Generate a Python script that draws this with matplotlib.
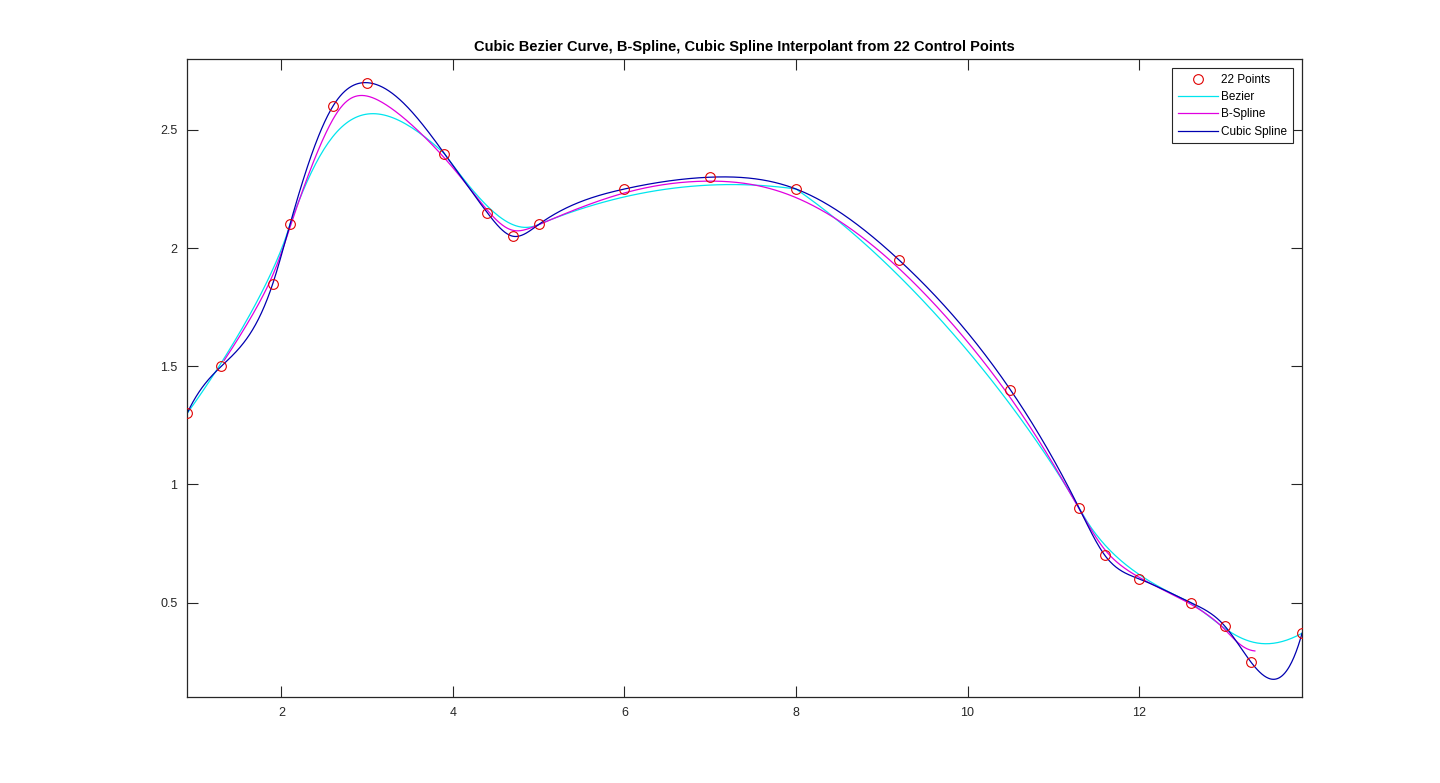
import numpy as np
import matplotlib
matplotlib.use("Agg")
import matplotlib.pyplot as plt

plt.rcParams['font.family'] = ['Liberation Sans', 'DejaVu Sans']

# Control points
x_pts = [0.9, 1.3, 1.9, 2.1, 2.6, 3.0, 3.9, 4.4, 4.7, 5.0, 6.0,
         7.0, 8.0, 9.2, 10.5, 11.3, 11.6, 12.0, 12.6, 13.0, 13.3, 13.9]
y_pts = [1.30, 1.50, 1.85, 2.10, 2.60, 2.70, 2.40, 2.15, 2.05, 2.10, 2.25,
         2.30, 2.25, 1.95, 1.40, 0.90, 0.70, 0.60, 0.50, 0.40, 0.25, 0.37]

x_ticks = [2, 4, 6, 8, 10, 12]
y_ticks = [0.5, 1, 1.5, 2, 2.5]

P = np.column_stack([x_pts, y_pts])
n = len(P)

# Piecewise cubic Bezier (segments share end points: 22 = 3*7 + 1)
t = np.linspace(0, 1, 60)[:, None]
bez = []
for s in range(0, n - 1, 3):
    p0, p1, p2, p3 = P[s], P[s + 1], P[s + 2], P[s + 3]
    seg = ((1 - t) ** 3) * p0 + 3 * ((1 - t) ** 2) * t * p1 + 3 * (1 - t) * t ** 2 * p2 + t ** 3 * p3
    bez.append(seg if s == 0 else seg[1:])
bez = np.vstack(bez)

# Uniform (unclamped) cubic B-spline
bsp = []
for s in range(n - 3):
    b0 = (1 - t) ** 3 / 6
    b1 = (3 * t ** 3 - 6 * t ** 2 + 4) / 6
    b2 = (-3 * t ** 3 + 3 * t ** 2 + 3 * t + 1) / 6
    b3 = t ** 3 / 6
    seg = b0 * P[s] + b1 * P[s + 1] + b2 * P[s + 2] + b3 * P[s + 3]
    bsp.append(seg if s == 0 else seg[1:])
bsp = np.vstack(bsp)

# Not-a-knot cubic spline interpolant
xa = np.array(x_pts); ya = np.array(y_pts)
h = np.diff(xa)
A = np.zeros((n, n)); r = np.zeros(n)
A[0, 0], A[0, 1], A[0, 2] = h[1], -(h[0] + h[1]), h[0]
for i in range(1, n - 1):
    A[i, i - 1] = h[i - 1]
    A[i, i] = 2 * (h[i - 1] + h[i])
    A[i, i + 1] = h[i]
    r[i] = 6 * ((ya[i + 1] - ya[i]) / h[i] - (ya[i] - ya[i - 1]) / h[i - 1])
A[-1, -3], A[-1, -2], A[-1, -1] = h[-1], -(h[-2] + h[-1]), h[-2]
M = np.linalg.solve(A, r)
xs = np.linspace(xa[0], xa[-1], 1500)
idx = np.clip(np.searchsorted(xa, xs) - 1, 0, n - 2)
hi = h[idx]
x0 = xa[idx]; x1 = xa[idx + 1]
ys = (M[idx] * (x1 - xs) ** 3 / (6 * hi) + M[idx + 1] * (xs - x0) ** 3 / (6 * hi)
      + (ya[idx] / hi - M[idx] * hi / 6) * (x1 - xs)
      + (ya[idx + 1] / hi - M[idx + 1] * hi / 6) * (xs - x0))

fig = plt.figure(figsize=(14.4, 7.83), dpi=100)
ax = fig.add_axes([0.1299, 0.1098, 0.9042 - 0.1299, 0.9246 - 0.1098])

ax.plot(x_pts, y_pts, 'o', mfc='none', mec='#e00000', ms=7, mew=0.8, label='22 Points', zorder=5)
ax.plot(bez[:, 0], bez[:, 1], color='#00e5ee', lw=0.9, label='Bezier')
ax.plot(bsp[:, 0], bsp[:, 1], color='#e000e0', lw=0.9, label='B-Spline')
ax.plot(xs, ys, color='#0000b0', lw=0.9, label='Cubic Spline')

ax.set_xlim(min(x_pts), max(x_pts))
ax.set_ylim(0.1, 2.8)
ax.set_xticks(x_ticks)
ax.set_yticks(y_ticks)
ax.set_yticklabels(['0.5', '1', '1.5', '2', '2.5'])
ax.tick_params(direction='in', length=8, width=0.8, top=True, right=True,
               labelsize=9, pad=7, colors='#262626')
for sp in ax.spines.values():
    sp.set_linewidth(0.9)
    sp.set_color('#262626')

ax.set_title('Cubic Bezier Curve, B-Spline, Cubic Spline Interpolant from 22 Control Points',
             fontsize=10.5, fontweight='bold', pad=6)

leg = ax.legend(loc='upper right', fontsize=8.5, frameon=True, fancybox=False,
                edgecolor='#262626', framealpha=1, borderaxespad=0.8,
                handlelength=3.4, handletextpad=0.3, borderpad=0.45, labelspacing=0.45)
leg.get_frame().set_linewidth(0.8)

fig.savefig('out.png', dpi=100)
